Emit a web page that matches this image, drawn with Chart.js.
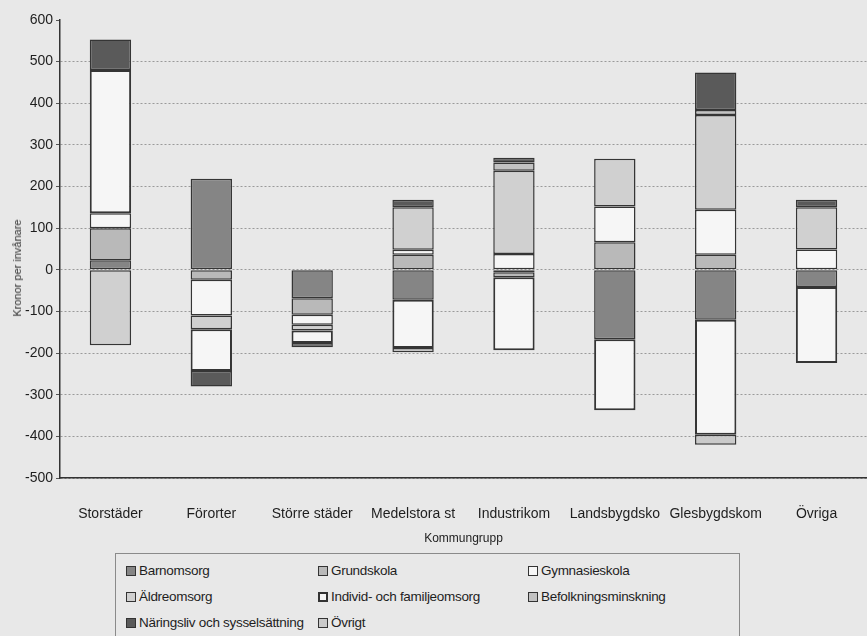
<!DOCTYPE html>
<html>
<head>
<meta charset="utf-8">
<script src="https://cdn.jsdelivr.net/npm/chart.js@4"></script>
<style>
  html, body { margin: 0; padding: 0; background: #e8e8e8; }
  body { width: 867px; height: 636px; position: relative; overflow: hidden; font-family: 'Liberation Sans', Arial, sans-serif; color: #1e1e1e; }
  #wrap { position: absolute; left: 0; top: 0; width: 867px; height: 548px; }
  #ytitle { position: absolute; left: 17px; top: 268px; transform: translate(-50%, -50%) rotate(-90deg); font-size: 11px; white-space: nowrap; color: #333; }
  #legend { position: absolute; left: 115px; top: 553px; width: 625px; height: 100px; border: 1px solid #8a8a8a; box-sizing: border-box; }
  .li { position: absolute; font-size: 13.5px; letter-spacing: -0.3px; white-space: nowrap; line-height: 14px; }
  .sw { display: inline-block; width: 8px; height: 8px; border: 1px solid #333; margin-right: 3px; vertical-align: -1px; }
</style>
</head>
<body>
<div id="wrap"><canvas id="c"></canvas></div>
<div id="ytitle">Kronor per invånare</div>
<div id="legend"></div>
<script>
/* ── data: kronor per invånare, per kommungrupp ──────────────────────── */
const CATEGORIES = ['Storstäder', 'Förorter', 'Större städer', 'Medelstora st',
                    'Industrikom', 'Landsbygdsko', 'Glesbygdskom', 'Övriga'];

const BARNOMSORG    = [23, 219, -68, -72, -6, -167, -120, -41];
const GRUNDSKOLA    = [77, -24, -40, 36, -12, 66, 36, null];
const GYMNASIESKOLA = [36, -86, -24, 12, 38, 86, 108, 49];
const ALDREOMSORG   = [-181, -33, -14, 102, 200, 115, 228, 101];
const INDIVID       = [344, -100, -30, -116, -175, -170, -276, -183];
const BEFOLKNING    = [null, null, null, null, 20, null, 12, null];
const NARINGSLIV    = [73, -37, -10, 18, 11, null, 90, 18];
const OVRIGT        = [null, null, null, -10, null, null, -24, null];

const SERIES = [
  { label: 'Barnomsorg',                    data: BARNOMSORG,    color: '#858585' },
  { label: 'Grundskola',                    data: GRUNDSKOLA,    color: '#b9b9b9' },
  { label: 'Gymnasieskola',                 data: GYMNASIESKOLA, color: '#f6f6f6' },
  { label: 'Äldreomsorg',                   data: ALDREOMSORG,   color: '#d0d0d0' },
  { label: 'Individ- och familjeomsorg',    data: INDIVID,       color: '#f6f6f6', thick: true },
  { label: 'Befolkningsminskning',          data: BEFOLKNING,    color: '#c2c2c2' },
  { label: 'Näringsliv och sysselsättning', data: NARINGSLIV,    color: '#5a5a5a' },
  { label: 'Övrigt',                        data: OVRIGT,        color: '#cacaca' }
];

const Y_MIN = -500, Y_MAX = 600, Y_STEP = 100;
const FONT = 'Liberation Sans';

/* ── chart ───────────────────────────────────────────────────────────── */
const ctx = document.getElementById('c').getContext('2d');

new Chart(ctx, {
  type: 'bar',
  data: {
    labels: CATEGORIES,
    datasets: SERIES.map(s => ({
      label: s.label,
      data: s.data,
      backgroundColor: s.color,
      borderColor: '#353535',
      borderWidth: s.thick ? 2 : 1.5,
      borderSkipped: false,
      categoryPercentage: 1,
      barPercentage: 0.41
    }))
  },
  options: {
    responsive: true,
    maintainAspectRatio: false,
    animation: false,
    layout: { padding: { top: 20, right: 0, left: 0, bottom: 0 } },
    plugins: { legend: { display: false }, tooltip: { enabled: false } },
    scales: {
      x: {
        stacked: true,
        afterFit: s => { s.height = 70; },
        ticks: { font: { family: FONT, size: 14 }, color: '#1e1e1e', padding: 20, maxRotation: 0, autoSkip: false },
        grid: { display: false },
        border: { display: true, color: '#333', width: 1.5 },
        title: { display: true, text: 'Kommungrupp', font: { family: FONT, size: 12 }, color: '#222', padding: { top: 0, bottom: 2 } }
      },
      y: {
        stacked: true,
        min: Y_MIN,
        max: Y_MAX,
        afterFit: s => { s.width = 60; },
        ticks: { stepSize: Y_STEP, font: { family: FONT, size: 14 }, color: '#1e1e1e', padding: 3 },
        grid: {
          color: c => (c.tick && c.tick.value === Y_MAX) ? 'rgba(0,0,0,0)' : '#9a9a9a',
          lineWidth: 1,
          tickLength: 4,
          tickColor: '#555',
          tickBorderDash: []
        },
        /* v4: border.dash dots the gridlines, the axis line stays solid */
        border: { display: true, color: '#333', width: 1.5, dash: [2, 2] }
      }
    }
  }
});

/* ── legend: three columns, as in the original ───────────────────────── */
const LEG_COLS = [10, 202, 412];
const LEG_ROWS = [10, 36, 62];
const leg = document.getElementById('legend');
SERIES.forEach((s, i) => {
  const el = document.createElement('div');
  el.className = 'li';
  el.style.left = LEG_COLS[i % 3] + 'px';
  el.style.top = LEG_ROWS[Math.floor(i / 3)] + 'px';
  const sw = document.createElement('span');
  sw.className = 'sw';
  sw.style.background = s.color;
  if (s.thick) { sw.style.borderWidth = '2px'; sw.style.width = '6px'; sw.style.height = '6px'; }
  el.appendChild(sw);
  el.appendChild(document.createTextNode(s.label));
  leg.appendChild(el);
});
</script>
</body>
</html>
